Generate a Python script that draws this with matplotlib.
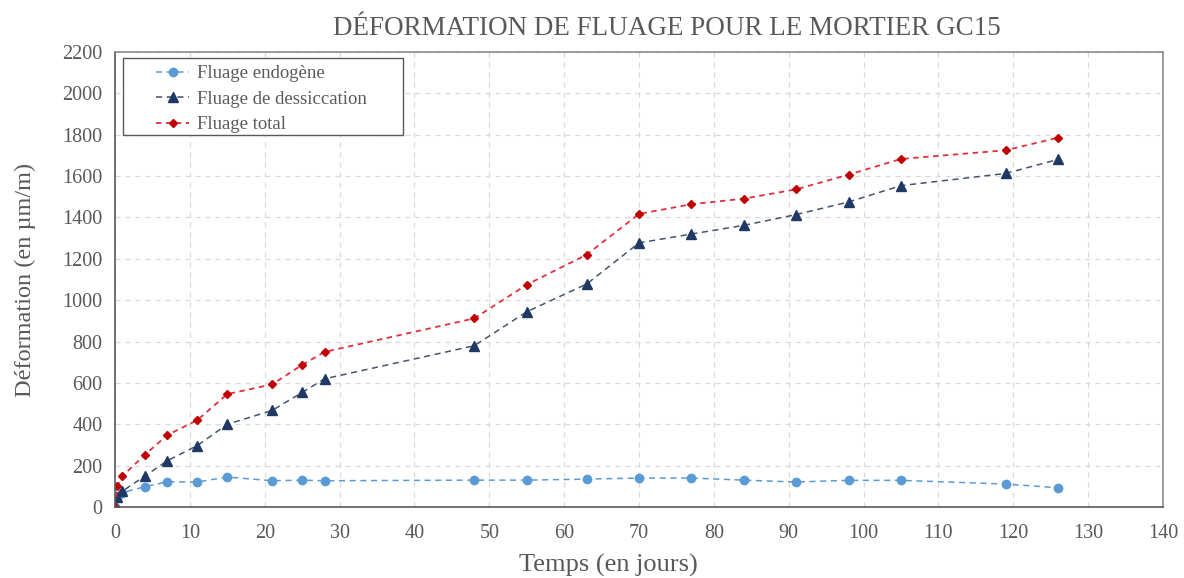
import numpy as np
import matplotlib
matplotlib.use("Agg")
import matplotlib.pyplot as plt
from matplotlib.patches import Rectangle

plt.rcParams['font.family'] = ['Liberation Serif', 'DejaVu Serif']

# temps de mesure (jours)
temps = [0, 0.3, 1, 4, 7, 11, 15, 21, 25, 28, 48, 55, 63, 70, 77, 84, 91, 98, 105, 119, 126]

# deformations (um/m)
fluage_endogene = [0, 45, 70, 98, 122, 121, 145, 127, 130, 127, 130, 130, 135, 140, 140,
                   130, 121, 129, 129, 111, 93]
fluage_dessiccation = [0, 50, 77, 150, 224, 297, 400, 467, 554, 620, 780, 944, 1078, 1277,
                       1320, 1362, 1414, 1475, 1554, 1613, 1681]
fluage_total = [0, 100, 150, 253, 348, 420, 546, 593, 687, 750, 912, 1075, 1220, 1417,
                1464, 1491, 1536, 1607, 1683, 1725, 1786]

x_ticks = np.arange(0, 141, 10)
y_ticks = np.arange(0, 2201, 200)

txt = '#595959'

fig = plt.figure(figsize=(11.84, 5.78), dpi=100)
ax = fig.add_axes([0.0971, 0.1228, 0.8852, 0.7872])

ax.plot(temps, fluage_endogene, ls='--', lw=1.1, color='#5b9bd5', marker='o', ms=6,
        dashes=(4, 3), label='Fluage endogène')
ax.plot(temps, fluage_dessiccation, ls='--', lw=1.1, color='#44546a', marker='^', ms=6.5,
        mfc='#1f3864', mec='#1f3864', dashes=(4, 3), label='Fluage de dessiccation')
ax.plot(temps, fluage_total, ls='--', lw=1.3, color='#e0303e', marker='D', ms=4.5,
        mfc='#c00000', mec='#c00000', dashes=(3, 2.5), label='Fluage total')

ax.set_xlim(0, 140)
ax.set_ylim(0, 2200)
ax.set_xticks(x_ticks)
ax.set_yticks(y_ticks)
ax.tick_params(length=0, labelsize=14.5, labelcolor=txt)
ax.tick_params(axis='x', pad=12)
ax.tick_params(axis='y', pad=9)
ax.grid(True, ls=(0, (4, 4)), color='#d9d9d9', lw=0.9)
ax.set_axisbelow(True)

for side in ['top', 'right']:
    ax.spines[side].set_color('#8c8c8c')
    ax.spines[side].set_linewidth(1.2)
for side in ['left', 'bottom']:
    ax.spines[side].set_color('#595959')
    ax.spines[side].set_linewidth(1.2)

ax.set_xlabel('Temps (en jours)', fontsize=19, color=txt)
ax.xaxis.set_label_coords(0.471, -0.102)
ax.set_ylabel('Déformation (en µm/m)', fontsize=17.5, color=txt)
ax.yaxis.set_label_coords(-0.075, 0.5)
ax.set_title('DÉFORMATION DE FLUAGE POUR LE MORTIER GC15', fontsize=19.5, color=txt,
             pad=12, x=0.527)

# cadre de la legende, un peu plus large que les entrees
ax.add_patch(Rectangle((0.0076, 0.8176), 0.2672, 0.1694, transform=ax.transAxes,
                       fill=True, fc='white', ec='#595959', lw=1.0, zorder=4))
leg = ax.legend(loc='upper left', bbox_to_anchor=(0.036, 0.979), fontsize=13.5, frameon=False,
                borderpad=0.2, labelspacing=0.44, handlelength=1.75, handletextpad=0.4,
                borderaxespad=0)
leg.set_zorder(5)
for t in leg.get_texts():
    t.set_color(txt)

fig.savefig('out.png', dpi=100, facecolor='white')
